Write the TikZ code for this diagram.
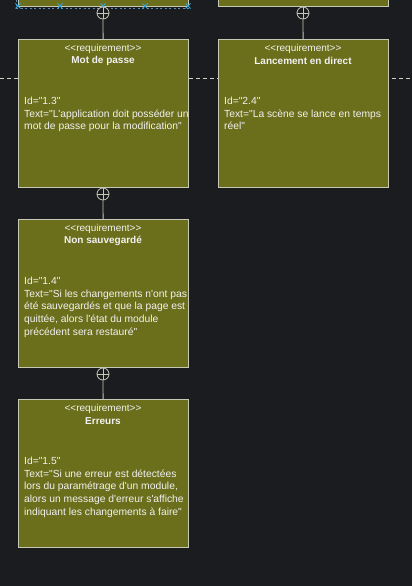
\documentclass[tikz,border=0pt]{standalone}
\usepackage{fontspec}
\newfontfamily\dfont{Liberation Sans}
\definecolor{bgc}{HTML}{1B1C1F}
\definecolor{olive}{HTML}{6B6E1B}
\definecolor{bord}{HTML}{C8C8B6}
\definecolor{txt}{HTML}{F2F2F2}
\definecolor{sel}{HTML}{2FA8E0}
\definecolor{seld}{HTML}{5C8DB5}
\begin{document}
\begin{tikzpicture}[x=1pt,y=-1pt,
  req/.style={draw=bord, fill=olive, line width=1pt, minimum width=170pt, minimum height=148pt, anchor=north west, inner sep=0pt},
  stereo/.style={text=txt, font=\dfont\fontsize{10}{11}\selectfont, inner sep=0pt},
  title/.style={text=txt, font=\dfont\fontsize{10}{11}\selectfont\bfseries, inner sep=0pt},
  body/.style={text=txt, font=\dfont\fontsize{10.3}{12.9}\selectfont, align=left, anchor=north west, inner sep=0pt},
  circ/.style={circle, draw=bord, fill=bgc, line width=0.8pt, minimum size=12pt, inner sep=0pt,
    path picture={\draw[bord, line width=0.8pt] (path picture bounding box.north) -- (path picture bounding box.south)
      (path picture bounding box.west) -- (path picture bounding box.east);}},
  conn/.style={draw=bord, line width=0.8pt},
  lane/.style={draw=bord!85, line width=0.8pt, dash pattern=on 4pt off 3pt},
  xmark/.style={sel, line width=1pt}
]
\useasboundingbox (0,0) rectangle (412,586);
\fill[bgc] (0,0) rectangle (412,586);
\clip (0,0) rectangle (412,586);

% lane separator
\draw[lane] (0,78) -- (412,78);

% top partial boxes
\node[req] (t1) at (18,-142) {};
\node[req] (t2) at (218,-142) {};

% selection marks on top-left box
\draw[seld, line width=1.2pt, dash pattern=on 2pt off 2.5pt] (16,8.5) -- (190,8.5);
\draw[seld, line width=1.2pt, dash pattern=on 2pt off 2.5pt] (16.5,0) -- (16.5,8.5);
\foreach \xx in {18,60,103,145,188}{
  \draw[xmark] (\xx-2.5,6-2.5) -- (\xx+2.5,6+2.5) (\xx-2.5,6+2.5) -- (\xx+2.5,6-2.5);
}

% boxes
\node[req] (b1) at (18,39) {};
\node[req] (b2) at (18,219) {};
\node[req] (b3) at (18,399) {};
\node[req] (r1) at (218,39) {};

% circles
\node[circ] (c0) at (103,13) {};
\node[circ] (c4) at (303,13) {};
\node[circ] (c1) at (103,194) {};
\node[circ] (c2) at (103,374) {};

\draw[conn] (c0) -- (b1);
\draw[conn] (c4) -- (r1);
\draw[conn] (c1) -- (b2);
\draw[conn] (c2) -- (b3);

% texts box 1
\node[stereo] (s1) at (103,49) {<<requirement>>};
\node[title] (n1) at (103,61) {Mot de passe};
\node[body] (d1) at (24,96.5) {Id="1.3"\\Text="L'application doit posséder un\\mot de passe pour la modification"};

% right box
\node[stereo] (s4) at (303,49) {<<requirement>>};
\node[title] (n4) at (303,61) {Lancement en direct};
\node[body] (d4) at (224,96.5) {Id="2.4"\\Text="La scène se lance en temps\\réel"};

% box 2
\node[stereo] (s2) at (103,229) {<<requirement>>};
\node[title] (n2) at (103,241) {Non sauvegardé};
\node[body] (d2) at (24,276.5) {Id="1.4"\\Text="Si les changements n'ont pas\\été sauvegardés et que la page est\\quittée, alors l'état du module\\précédent sera restauré"};

% box 3
\node[stereo] (s3) at (103,409) {<<requirement>>};
\node[title] (n3) at (103,421) {Erreurs};
\node[body] (d3) at (24,456.5) {Id="1.5"\\Text="Si une erreur est détectées\\lors du paramétrage d'un module,\\alors un message d'erreur s'affiche\\indiquant les changements à faire"};
\end{tikzpicture}
\end{document}
